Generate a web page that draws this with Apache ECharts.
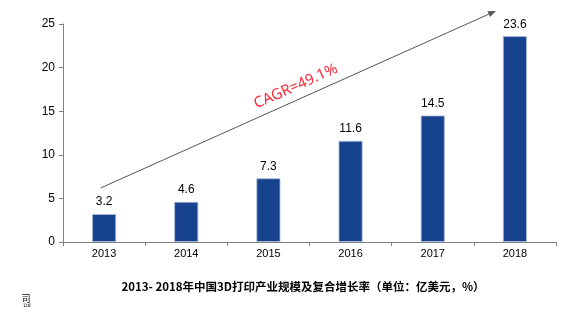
<!DOCTYPE html>
<html><head><meta charset="utf-8">
<script src="https://cdn.jsdelivr.net/npm/echarts@6/dist/echarts.min.js"></script>
<style>html,body{margin:0;padding:0;background:#fff}#c{width:576px;height:322px}</style>
</head><body><div id="c"></div>
<script>
const categories = ['2013','2014','2015','2016','2017','2018'];
const values = [3.2, 4.6, 7.3, 11.6, 14.5, 23.6];
const yTicks = [0, 5, 10, 15, 20, 25];
const cagrText = 'CAGR=49.1%';
const arrowStart = [-0.04, 6.2];   // [category position, value]
const arrowEnd = [4.77, 26.5];
const titleText = '2013- 2018年中国3D打印产业规模及复合增长率（单位：亿美元，%）';

const chart = echarts.init(document.getElementById('c'));
chart.setOption({
  animation: false,
  backgroundColor: '#fff',
  grid: {left: 63, right: 20, top: 24, bottom: 80, containLabel: false},
  title: {
    text: titleText, left: 298, top: 276, textAlign: 'center',
    textStyle: {fontSize: 11.5, fontWeight: 'bold', color: '#000', fontFamily: 'Noto Sans CJK SC'}
  },
  xAxis: {
    type: 'category', data: categories,
    axisLine: {lineStyle: {color: '#808080', width: 1}},
    axisTick: {show: true, length: 4, lineStyle: {color: '#808080'}},
    axisLabel: {fontSize: 11, color: '#000', margin: 6, fontFamily: 'Liberation Sans'}
  },
  yAxis: {
    type: 'value', min: yTicks[0], max: yTicks[yTicks.length - 1], interval: 5,
    axisLine: {show: true, lineStyle: {color: '#808080', width: 1}},
    axisTick: {show: true, length: 4, lineStyle: {color: '#808080'}},
    splitLine: {show: false},
    axisLabel: {fontSize: 12, color: '#000', margin: 8, fontFamily: 'Liberation Sans'}
  },
  series: [{
    type: 'bar', data: values, barWidth: 24,
    itemStyle: {color: '#17428e', borderColor: '#a9bbdc', borderWidth: 0.8},
    label: {show: true, position: 'top', distance: 6, fontSize: 12, color: '#000', fontFamily: 'Liberation Sans'}
  }]
});

function toPx(pt) {
  const a = chart.convertToPixel({xAxisIndex: 0, yAxisIndex: 0}, [categories[0], pt[1]]);
  const b = chart.convertToPixel({xAxisIndex: 0, yAxisIndex: 0}, [categories[1], pt[1]]);
  return [a[0] + pt[0] * (b[0] - a[0]), a[1]];
}
const p0 = toPx(arrowStart), p1 = toPx(arrowEnd);
const dx = p1[0] - p0[0], dy = p1[1] - p0[1];
const len = Math.sqrt(dx * dx + dy * dy);
const ux = dx / len, uy = dy / len;
const nx = uy, ny = -ux; // perpendicular
const headL = 8, headW = 3.2;
const base = [p1[0] - ux * headL, p1[1] - uy * headL];
const ang = Math.atan2(-dy, dx);
const mid = [(p0[0] + p1[0]) / 2, (p0[1] + p1[1]) / 2];
const off = 13, along = 3;

chart.setOption({
  graphic: [
    {type: 'line', silent: true, shape: {x1: p0[0], y1: p0[1], x2: base[0], y2: base[1]}, style: {stroke: '#555', lineWidth: 1}},
    {type: 'polygon', silent: true, shape: {points: [p1, [base[0] + nx * headW, base[1] + ny * headW], [base[0] - nx * headW, base[1] - ny * headW]]}, style: {fill: '#555'}},
    {type: 'text', silent: true, x: mid[0] + nx * off + along * ux, y: mid[1] + ny * off + along * uy, rotation: ang,
      style: {text: cagrText, font: '15px "Noto Sans"', fill: '#ff2a3a', align: 'center', verticalAlign: 'middle'}},
    {type: 'text', silent: true, x: 26, y: 299, style: {text: '司', font: '9px "Noto Sans CJK SC"', fill: '#000', align: 'center', verticalAlign: 'middle'}},
    {type: 'text', silent: true, x: 27, y: 306, style: {text: 'Ltd', font: '5px "Liberation Sans"', fill: '#000', align: 'center', verticalAlign: 'middle'}}
  ]
});
</script></body></html>
